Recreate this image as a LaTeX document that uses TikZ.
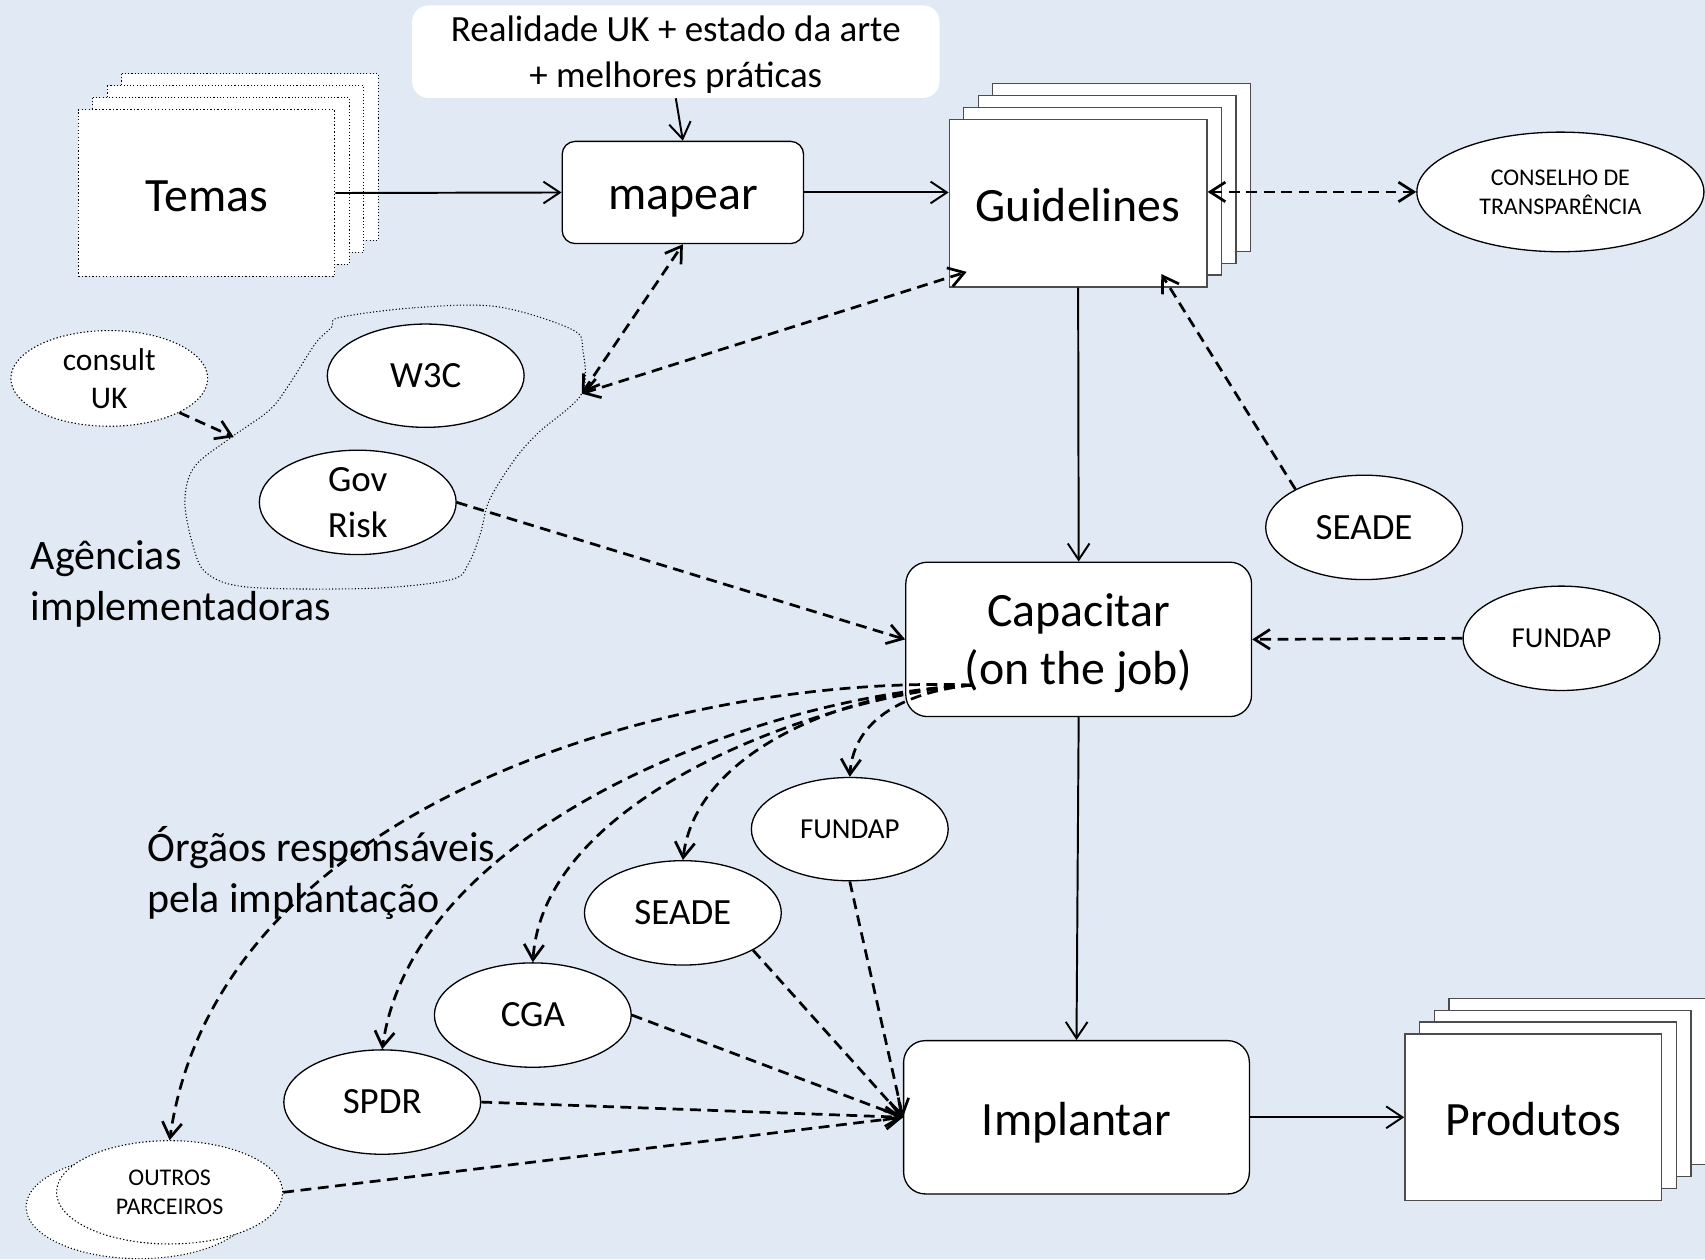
\documentclass[tikz,border=0pt]{standalone}
\usepackage{fontspec}
\setmainfont{Carlito}
\usetikzlibrary{arrows.meta,shapes.geometric}

\definecolor{fundoazul}{RGB}{225,234,244}
\newcommand{\fontgrande}{\fontsize{22}{26.8}\selectfont}
\newcommand{\fontmedia}{\fontsize{17}{21}\selectfont}
\newcommand{\fontlegenda}{\fontsize{19.3}{23.5}\selectfont}
\newcommand{\fontconsult}{\fontsize{14.5}{17.5}\selectfont}
\newcommand{\fontfundap}{\fontsize{13.3}{16}\selectfont}
\newcommand{\fontpequena}{\fontsize{11}{13.4}\selectfont}

\begin{document}
\begin{tikzpicture}[x=0.5pt,y=0.5pt,yscale=-1,
    folha/.style={draw=black!70,fill=white,line width=0.6pt,minimum width=118pt,minimum height=76.5pt,inner sep=0pt,text height=17pt,text depth=0pt,font=\fontgrande},
    folhapont/.style={folha,draw=black,densely dotted,line width=0.5pt},
    etapa/.style={draw,fill=white,rounded corners=10pt,line width=0.6pt,minimum width=159pt,minimum height=71pt,inner sep=0pt,text depth=0pt,align=center,font=\fontgrande},
    orgao/.style={ellipse,draw,fill=white,line width=0.6pt,minimum width=90.5pt,minimum height=48pt,inner sep=0pt,align=center,font=\fontmedia},
    fluxo/.style={line width=0.9pt,-{Straight Barb[length=7.5pt,width=10pt]}},
    apoio/.style={line width=1.25pt,dash pattern=on 5pt off 3pt,-{Straight Barb[length=7pt,width=9pt]}},
    apoio2/.style={apoio,{Straight Barb[length=7pt,width=9pt]}-{Straight Barb[length=7pt,width=9pt]}}]

    % fundo
    \fill[fundoazul] (0,0) rectangle (1568,1158);
    \useasboundingbox (0,0) rectangle (1568,1158);

    % pilhas de folhas
    \coordinate (temas pos) at (190,177.5);
    \coordinate (guide pos) at (991.5,187);
    \coordinate (prod pos) at (1410,1027.5);
    \foreach \i in {3,2,1} {
        \draw[densely dotted,fill=white,line width=0.5pt] (temas pos) ++(13.3*\i-118,-11*\i-76.5) rectangle ++(236,153);
        \draw[draw=black!70,fill=white,line width=0.6pt] (guide pos) ++(13.3*\i-118.5,-11*\i-77) rectangle ++(237,154);
        \draw[draw=black!70,fill=white,line width=0.6pt] (prod pos) ++(13.5*\i-118,-11*\i-76.5) rectangle ++(236,153);
    }
    \node[folhapont] (temas) at (temas pos) {Temas};
    \node[folha,minimum width=118.5pt,minimum height=77pt] (guidelines) at (guide pos) {Guidelines};
    \node[folha] (produtos) at (prod pos) {Produtos};

    % caixas
    \node[fill=white,rounded corners=7.5pt,minimum width=242.5pt,minimum height=42.5pt,inner sep=0pt,text depth=0pt,align=center,font=\fontmedia] (realidade) at (621.5,47.5) {Realidade UK + estado da arte\\+ melhores práticas};
    \node[etapa,minimum width=111pt,minimum height=47pt,rounded corners=6pt,text height=16pt] (mapear) at (628,177) {mapear};
    \node[etapa] (capacitar) at (992,588) {Capacitar\\(on the job)};
    \node[etapa,minimum height=70.5pt,text height=16.5pt] (implantar) at (990,1027.5) {Implantar};

    % nuvem das agencias
    \draw[densely dotted,line width=0.5pt] plot[smooth cycle,tension=0.55] coordinates {
        (312,292) (381,283) (457,282) (526,303) (536,322) (535,362) (495,398) (473,423)
        (450,460) (442,490) (431,518) (415,533) (343,541) (229,540) (190,527) (177,500)
        (170,460) (179,429) (213,402) (248,377) (267,352) (290,316) (305,301)};
    \coordinate (nuvem dir) at (535,362);
    \coordinate (nuvem esq) at (215,402);
    \coordinate (guide in) at (889,250);
    \coordinate (guide seade) at (1068,252);
    \coordinate (capacitar fan) at (894,630);

    % elipses
    \node[orgao,minimum width=132pt,minimum height=55pt,font=\fontpequena] (conselho) at (1435,176.5) {CONSELHO DE\\TRANSPARÊNCIA};
    \node[orgao,densely dotted,line width=0.5pt,minimum height=44pt,font=\fontconsult] (consult) at (100.5,348) {consult\\UK};
    \node[orgao,minimum height=47.5pt] (w3c) at (391.5,345.5) {W3C};
    \node[orgao] (govrisk) at (329,462) {Gov\\Risk};
    \node[orgao] (seade) at (1254.5,485) {SEADE};
    \node[orgao,font=\fontfundap] (fundap) at (1436,587) {FUNDAP};
    \node[orgao,minimum height=47.5pt,font=\fontfundap] (fundap b) at (781.5,762.5) {FUNDAP};
    \node[orgao] (seade b) at (628,839.5) {SEADE};
    \node[orgao] (cga) at (490,933.5) {CGA};
    \node[orgao] (spdr) at (351.5,1013.5) {SPDR};
    \draw[densely dotted,fill=white,line width=0.5pt] (128,1110) ellipse [x radius=104,y radius=47.5];
    \node[orgao,densely dotted,line width=0.5pt,minimum width=104pt,minimum height=47.5pt,font=\fontpequena] (outros) at (156,1096.5) {OUTROS\\PARCEIROS};

    % legendas
    \node[anchor=west,align=left,inner sep=0pt,font=\fontlegenda] (agencias) at (28,537) {Agências\\implementadoras};
    \node[anchor=west,align=left,inner sep=0pt,font=\fontlegenda] (orgaos) at (135,802.5) {Órgãos responsáveis\\pela implantação};

    % conectores
    \draw[fluxo] (temas.east) -- (mapear.west);
    \draw[fluxo] (mapear.east) -- (mapear.east -| guidelines.west);
    \draw[fluxo] (realidade.south) -- (mapear.north);
    \draw[apoio2] (conselho.west -| guidelines.east) -- (conselho.west);
    \draw[apoio2] (nuvem dir) -- (mapear.south);
    \draw[apoio2] (nuvem dir) -- (guide in);
    \draw[apoio] (consult.-26) -- (nuvem esq);
    \draw[apoio] (seade.151) -- (guide seade);
    \draw[fluxo] (guidelines.south) -- (capacitar.north);
    \draw[apoio] (govrisk.east) -- (capacitar.west);
    \draw[apoio] (fundap.west) -- (capacitar.east);
    \draw[fluxo] (capacitar.south) -- (implantar.north);
    \draw[fluxo] (implantar.east) -- (produtos.west);

    % capacitar -> orgaos
    \draw[apoio] (capacitar fan) .. controls (835,636) and (785,660) .. (fundap b.north);
    \draw[apoio] (capacitar fan) .. controls (780,635) and (640,690) .. (seade b.north);
    \draw[apoio] (capacitar fan) .. controls (760,640) and (500,730) .. (cga.north);
    \draw[apoio] (capacitar fan) .. controls (700,640) and (380,760) .. (spdr.north);
    \draw[apoio] (capacitar fan) .. controls (620,620) and (200,740) .. (outros.north);

    % orgaos -> implantar
    \draw[apoio] (fundap b.south) -- (implantar.west);
    \draw[apoio] (seade b.-28) -- (implantar.west);
    \draw[apoio] (cga.east) -- (implantar.west);
    \draw[apoio] (spdr.east) -- (implantar.west);
    \draw[apoio] (outros.east) -- (implantar.west);

\end{tikzpicture}
\end{document}
